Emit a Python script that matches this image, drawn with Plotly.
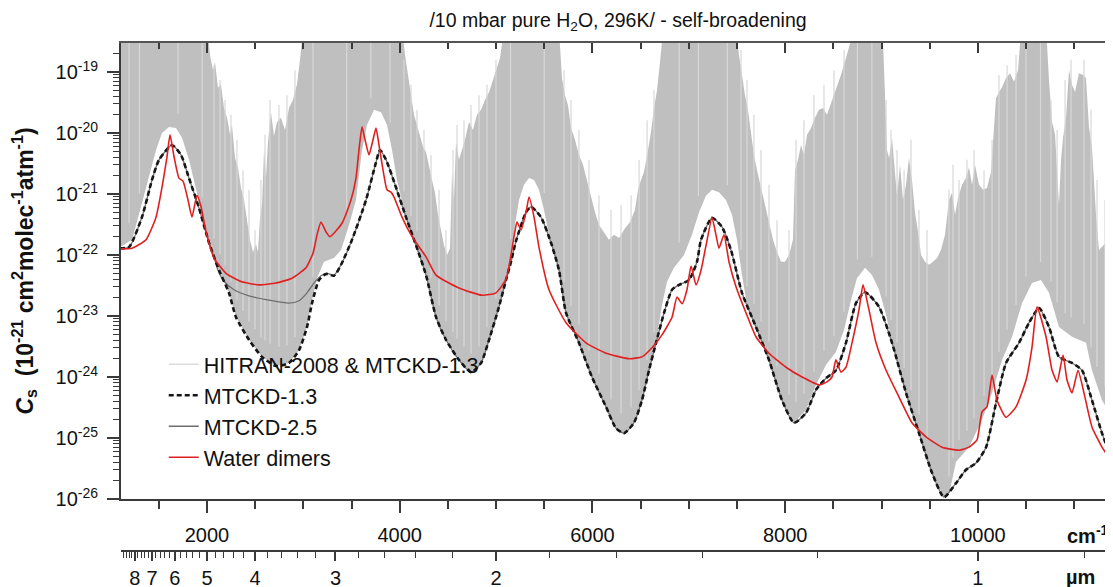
import numpy as np
import plotly.graph_objects as go

# ---------------- data (wavenumber in cm-1, log10 of Cs) ----------------
mtckd13_wn = [1097, 1118, 1191, 1325, 1429, 1502, 1637, 1730, 1813, 1917, 2021, 2125, 2228, 2301,
              2436, 2571, 2716, 2851, 2955, 3038, 3090, 3162, 3235, 3318, 3391, 3505, 3650, 3754,
              3795, 3858, 3961, 4065, 4169, 4273, 4377, 4480, 4615, 4740, 4844, 4927, 5030, 5103,
              5155, 5207, 5311, 5363, 5466, 5570, 5653, 5726, 5860, 5995, 6141, 6245, 6328, 6431,
              6514, 6587, 6660, 6743, 6826, 6898, 7002, 7085, 7127, 7241, 7344, 7438, 7552, 7697,
              7832, 7967, 8092, 8216, 8320, 8424, 8527, 8631, 8735, 8829, 8974, 9109, 9254, 9389,
              9524, 9648, 9773, 9877, 9981, 10085, 10188, 10292, 10427, 10531, 10635, 10738,
              10842, 10977, 11081, 11184, 11288, 11382, 11430]
mtckd13_lg = [-21.89, -21.89, -21.87, -21.38, -20.77, -20.44, -20.20, -20.36, -20.74, -21.23, -21.80,
              -22.25, -22.62, -23.02, -23.39, -23.67, -23.82, -23.77, -23.56, -23.18, -22.79, -22.41,
              -22.31, -22.34, -22.16, -21.75, -21.10, -20.48, -20.28, -20.44, -20.89, -21.38, -21.84,
              -22.33, -23.02, -23.39, -23.72, -23.92, -23.77, -23.39, -22.85, -22.41, -22.11, -21.77,
              -21.30, -21.21, -21.38, -21.80, -22.25, -22.95, -23.44, -24.00, -24.49, -24.84, -24.92,
              -24.75, -24.38, -23.89, -23.44, -22.95, -22.57, -22.49, -22.41, -22.11, -21.75, -21.39,
              -21.54, -21.92, -22.62, -23.18, -23.72, -24.38, -24.75, -24.59, -24.21, -24.02, -23.89,
              -23.44, -22.79, -22.61, -22.85, -23.44, -24.26, -24.92, -25.57, -25.97, -25.74, -25.52,
              -25.41, -25.15, -24.43, -23.77, -23.44, -23.11, -22.87, -23.18, -23.67, -23.77, -23.89,
              -24.38, -24.92, -25.31, -25.45]

# MTCKD-2.5 where it departs from MTCKD-1.3 (2000-3400 cm-1 window)
mtckd25_win_wn = [2073, 2114, 2176, 2280, 2436, 2643, 2851, 2955, 3038, 3110, 3183, 3245, 3318, 3391]
mtckd25_win_lg = [-22.03, -22.25, -22.43, -22.57, -22.67, -22.74, -22.79, -22.75, -22.62, -22.46,
                  -22.34, -22.30, -22.33, -22.16]

dimer_wn = [1097, 1118, 1222, 1367, 1471, 1533, 1585, 1616, 1658, 1709, 1751, 1803, 1844, 1896, 1938,
            1990, 2073, 2197, 2363, 2540, 2716, 2882, 3027, 3100, 3142, 3183, 3235, 3276, 3401, 3494,
            3546, 3577, 3609, 3640, 3681, 3723, 3754, 3785, 3827, 3868, 3910, 3941, 4024, 4128, 4273,
            4377, 4615, 4854, 4999, 5103, 5155, 5186, 5217, 5259, 5311, 5342, 5394, 5445, 5549, 5726,
            5933, 6141, 6380, 6514, 6618, 6722, 6826, 6878, 6930, 6981, 7023, 7075, 7127, 7178, 7241,
            7282, 7313, 7365, 7417, 7490, 7594, 7697, 7832, 8009, 8175, 8351, 8434, 8486, 8527, 8579,
            8631, 8694, 8766, 8808, 8870, 8943, 9047, 9182, 9316, 9462, 9628, 9804, 9908, 9991, 10043,
            10095, 10147, 10199, 10292, 10396, 10500, 10562, 10614, 10707, 10770, 10822, 10884, 10925,
            10977, 11039, 11101, 11184, 11288, 11382, 11430]
dimer_lg = [-21.90, -21.90, -21.89, -21.75, -21.38, -20.89, -20.39, -20.03, -20.39, -20.74, -20.79,
            -21.10, -21.38, -21.02, -21.21, -21.62, -22.05, -22.30, -22.44, -22.49, -22.46, -22.38,
            -22.21, -21.97, -21.67, -21.46, -21.62, -21.70, -21.48, -21.10, -20.74, -20.28, -19.90,
            -20.11, -20.36, -20.11, -19.92, -20.20, -20.61, -20.93, -20.97, -21.05, -21.38, -21.70,
            -22.03, -22.33, -22.54, -22.66, -22.62, -22.40, -22.00, -21.70, -21.46, -21.59, -21.30,
            -21.05, -21.38, -21.87, -22.57, -23.11, -23.44, -23.61, -23.70, -23.67, -23.52, -23.31,
            -23.02, -22.69, -22.80, -22.57, -22.18, -22.49, -22.25, -21.85, -21.39, -21.67, -21.89,
            -21.67, -22.11, -22.52, -22.95, -23.34, -23.61, -23.84, -24.00, -24.13, -24.08, -24.00,
            -23.72, -23.92, -23.84, -23.44, -22.90, -22.49, -22.90, -23.44, -23.89, -24.33, -24.75,
            -24.98, -25.15, -25.20, -25.15, -25.03, -24.57, -24.49, -23.97, -24.38, -24.66, -24.49,
            -24.05, -23.51, -22.85, -23.34, -23.89, -24.08, -23.64, -24.05, -24.26, -23.89, -24.26,
            -24.82, -25.15, -25.36, -25.45]

# HITRAN-2008 line spectrum: upper envelope of the dense lines
hitran_top_wn = [1097, 2000, 2031, 2062, 2083, 2114, 2145, 2176, 2208, 2239, 2259, 2291, 2322, 2353,
                 2384, 2415, 2446, 2477, 2508, 2529, 2550, 2571, 2592, 2612, 2633, 2664, 2695, 2726,
                 2768, 2809, 2851, 2892, 2934, 2965, 2996, 3007, 4013,
                 4024, 4055, 4086, 4117, 4148, 4179, 4210, 4242, 4273, 4304, 4335, 4366, 4397, 4428,
                 4460, 4491, 4522, 4543, 4563, 4584, 4615, 4646, 4677, 4719, 4760, 4802, 4844, 4885,
                 4927, 4968, 5010, 5041, 5082, 5093, 5643,
                 5653, 5684, 5715, 5746, 5778, 5819, 5860, 5902, 5943, 5985, 6027, 6068, 6120, 6172,
                 6224, 6276, 6338, 6390, 6442, 6473, 6504, 6535, 6577, 6608, 6639, 6670, 6701, 6732,
                 6743, 7479,
                 7490, 7521, 7552, 7583, 7614, 7645, 7676, 7708, 7749, 7791, 7832, 7874, 7915, 7957,
                 7998, 8040, 8081, 8102, 8133, 8164, 8195, 8227, 8268, 8310, 8351, 8393, 8434, 8486,
                 8527, 8579, 8631, 8673, 8714, 8725, 8994,
                 9015, 9036, 9057, 9078, 9109, 9130, 9161, 9192, 9223, 9254, 9285, 9316, 9347, 9379,
                 9410, 9451, 9493, 9534, 9576, 9617, 9659, 9700, 9731, 9763, 9794, 9835, 9877, 9908,
                 9939, 9970, 10012, 10053, 10095, 10136, 10167, 10188, 10219, 10251, 10292, 10334,
                 10375, 10417, 10448, 10458, 10697,
                 10718, 10738, 10770, 10801, 10822, 10842, 10863, 10884, 10915, 10946, 10977, 11008,
                 11049, 11091, 11122, 11153, 11184, 11205, 11226, 11257, 11299, 11330, 11361, 11392,
                 11430]
hitran_top_lg = [-18.15, -18.15, -18.72, -18.97, -18.84, -19.26, -19.20, -19.59, -19.75, -20.03, -19.87,
                 -20.41, -20.57, -20.90, -21.10, -21.46, -21.75, -21.95, -21.82, -21.95, -21.39, -21.18,
                 -20.28, -20.74, -20.15, -19.66, -20.05, -19.82, -19.75, -19.95, -19.59, -19.46, -19.20,
                 -18.80, -18.31, -18.15, -18.15,
                 -18.31, -18.72, -19.05, -19.38, -19.70, -19.87, -20.07, -20.23, -20.31, -20.57, -20.77,
                 -20.98, -21.34, -21.59, -21.84, -22.00, -21.89, -20.64, -21.10, -20.15, -20.44, -20.28,
                 -20.11, -19.82, -19.95, -19.70, -19.62, -19.46, -19.33, -19.13, -18.93, -18.77, -18.31,
                 -18.15, -18.15,
                 -18.31, -19.10, -19.38, -19.54, -19.92, -20.11, -20.36, -20.52, -20.77, -21.07, -21.30,
                 -21.51, -21.62, -21.75, -21.67, -21.72, -21.56, -21.46, -21.26, -20.93, -20.77, -20.64,
                 -20.28, -19.98, -19.59, -19.30, -18.84, -18.31, -18.15, -18.15,
                 -18.31, -18.72, -19.05, -19.38, -19.62, -20.03, -20.36, -20.61, -20.90, -21.18, -21.46,
                 -21.75, -21.95, -22.11, -22.11, -22.00, -21.75, -20.61, -20.44, -20.20, -20.36, -20.03,
                 -19.92, -19.75, -19.62, -19.59, -19.70, -19.46, -19.30, -19.05, -18.77, -18.56, -18.31,
                 -18.15, -18.15,
                 -18.48, -19.46, -20.28, -20.41, -20.08, -20.48, -21.02, -20.52, -21.10, -20.85, -20.41,
                 -20.77, -21.30, -21.62, -22.00, -22.11, -22.16, -22.11, -22.05, -21.92, -21.67, -21.10,
                 -20.98, -21.34, -21.07, -20.85, -20.74, -20.56, -20.85, -20.52, -20.85, -20.93, -20.90,
                 -20.64, -19.95, -19.43, -19.33, -19.25, -19.10, -19.02, -19.16, -18.97, -18.31, -18.15,
                 -18.15,
                 -18.56, -19.13, -19.82, -20.03, -20.61, -21.18, -20.44, -20.08, -19.74, -18.97, -19.21,
                 -19.33, -19.02, -19.05, -19.10, -19.90, -20.23, -20.77, -21.34, -21.92, -21.84, -21.80,
                 -21.67, -21.59, -21.59]

# HITRAN-2008 line spectrum: lower boundary (level reached between the lines)
hitran_low_wn = [1097, 1118, 1222, 1325, 1398, 1471, 1533, 1606, 1678, 1741, 1813, 1886, 1948, 2021,
                 2125, 2228, 2301, 2436, 2571, 2716, 2851, 2955, 3038, 3090, 3142, 3214, 3318, 3391,
                 3474, 3546, 3609, 3660, 3733, 3806, 3868, 3920, 3972, 4044, 4117, 4200, 4273, 4377,
                 4480, 4615, 4740, 4844, 4927, 5030, 5103, 5155, 5196, 5238, 5290, 5342, 5394, 5445,
                 5497, 5549, 5601, 5653, 5726, 5860, 5995, 6141, 6245, 6328, 6431, 6514, 6587, 6660,
                 6722, 6774, 6846, 6950, 7033, 7106, 7178, 7241, 7313, 7386, 7448, 7500, 7552, 7604,
                 7697, 7832, 7967, 8092, 8216, 8320, 8424, 8527, 8611, 8683, 8745, 8829, 8901, 8974,
                 9047, 9109, 9254, 9389, 9524, 9648, 9700, 9773, 9908, 10043, 10147, 10251, 10355,
                 10458, 10562, 10655, 10738, 10842, 10977, 11122, 11184, 11288, 11392, 11430]
hitran_low_lg = [-21.87, -21.85, -21.75, -21.15, -20.74, -20.28, -20.00, -19.90, -19.92, -20.08, -20.44,
                 -20.93, -21.34, -21.80, -22.25, -22.62, -23.02, -23.39, -23.67, -23.82, -23.77, -23.56,
                 -23.18, -22.74, -22.38, -22.11, -22.05, -21.92, -21.51, -21.10, -20.28, -19.87, -19.62,
                 -19.66, -19.87, -20.28, -20.77, -21.26, -21.67, -22.00, -22.33, -23.02, -23.39, -23.72,
                 -23.92, -23.77, -23.39, -22.85, -22.41, -22.00, -21.51, -21.10, -20.85, -20.74, -20.77,
                 -20.93, -21.26, -21.67, -22.00, -22.25, -22.95, -23.44, -24.00, -24.49, -24.84, -24.92,
                 -24.75, -24.38, -23.89, -23.44, -22.82, -22.44, -22.21, -22.00, -21.67, -21.30, -21.03,
                 -20.93, -20.97, -21.10, -21.34, -21.75, -22.33, -22.82, -23.18, -23.72, -24.38, -24.75,
                 -24.54, -24.13, -23.80, -23.59, -23.23, -22.74, -22.38, -22.21, -22.33, -22.57, -22.98,
                 -23.44, -24.26, -24.92, -25.57, -25.97, -25.93, -25.39, -25.15, -24.70, -24.26, -23.72,
                 -23.34, -22.79, -22.46, -22.41, -22.62, -23.18, -23.34, -23.44, -23.89, -24.38, -24.66,
                 -24.75]

# individual strong HITRAN lines seen as light spikes/streaks (position, peak log10)
hitran_spike_wn = [1191, 1300, 1700, 1950,
                   2073, 2135, 2187, 2249, 2311, 2374, 2436, 2498, 2560, 2602, 2654, 2747, 2830, 2913,
                   3100, 3450, 3700, 3900,
                   4044, 4117, 4179, 4252, 4325, 4408, 4480, 4553, 4595, 4667, 4740, 4823, 4906, 4999,
                   5150, 5500,
                   5705, 5778, 5860, 5964, 6068, 6193, 6297, 6401, 6484, 6567, 6639,
                   6900, 7100, 7400,
                   7542, 7604, 7676, 7749, 7832, 7915, 8040, 8113, 8195, 8299, 8403, 8507, 8611,
                   8750, 8900,
                   9047, 9099, 9161, 9234, 9306, 9389, 9472, 9700, 9742, 9804, 9887, 9960, 10064,
                   10147, 10219, 10303, 10396,
                   10500, 10650,
                   10759, 10822, 10905, 10967, 11101, 11174, 11236, 11319, 11382]
hitran_spike_lg = [-18.15, -18.15, -18.15, -18.15,
                   -18.89, -19.13, -19.46, -19.70, -20.11, -20.61, -20.93, -21.59, -20.77, -20.03,
                   -19.46, -19.54, -19.38, -18.97,
                   -18.15, -18.15, -18.15, -18.15,
                   -18.80, -19.21, -19.62, -19.95, -20.36, -20.93, -21.59, -20.28, -19.87, -19.79,
                   -19.54, -19.38, -19.21, -18.80,
                   -18.15, -18.15,
                   -18.97, -19.46, -19.95, -20.44, -21.02, -21.26, -21.18, -21.02, -20.44, -19.79,
                   -19.30,
                   -18.15, -18.15, -18.15,
                   -18.64, -19.13, -19.70, -20.28, -20.85, -21.43, -21.59, -20.11, -19.79, -19.38,
                   -19.21, -18.97, -18.64,
                   -18.15, -18.15,
                   -19.46, -19.95, -20.28, -20.61, -20.11, -21.26, -21.59, -20.93, -20.52, -20.77,
                   -20.44, -20.28, -20.61, -20.11, -19.05, -18.89, -18.72,
                   -18.15, -18.15,
                   -19.46, -19.95, -19.13, -18.80, -18.80, -19.62, -20.77, -21.10, -21.02]

x_major = [2000, 4000, 6000, 8000, 10000]
um_labels = [1, 2, 3, 4, 5, 6, 7, 8]
y_decades = [-26, -25, -24, -23, -22, -21, -20, -19]

X_RANGE = [1107.5, 11423]
Y_RANGE = [-26, -18.525]

# ---------------- build ----------------
def pw(lst):
    return [10 ** v for v in lst]

# MTCKD-2.5 coincides with MTCKD-1.3 outside its own window
m25 = [(w, l) for w, l in zip(mtckd13_wn, mtckd13_lg) if w < mtckd25_win_wn[0]]
m25 += list(zip(mtckd25_win_wn, mtckd25_win_lg))
m25 += [(w, l) for w, l in zip(mtckd13_wn, mtckd13_lg) if w > mtckd25_win_wn[-1]]
mtckd25_wn = [p[0] for p in m25]
mtckd25_lg = [p[1] for p in m25]

# spikes: vertical segments from above the lower boundary to their peak
spike_base = np.interp(hitran_spike_wn, hitran_low_wn, hitran_low_lg) + 0.3
sx, sy = [], []
for w, b, t in zip(hitran_spike_wn, spike_base, hitran_spike_lg):
    sx += [w, w, None]
    sy += [10 ** b, 10 ** t, None]

FONT = "Liberation Sans, Arial, sans-serif"
fig = go.Figure()

fig.add_trace(go.Scatter(
    x=hitran_top_wn + hitran_low_wn[::-1],
    y=pw(hitran_top_lg + hitran_low_lg[::-1]),
    fill="toself", fillcolor="#bfbfbf", line=dict(width=0, color="#bfbfbf"),
    mode="lines", showlegend=False, hoverinfo="skip"))
fig.add_trace(go.Scatter(x=sx, y=sy, mode="lines", line=dict(color="#d8d8d8", width=1.2),
                         showlegend=False, hoverinfo="skip"))
fig.add_trace(go.Scatter(x=[None], y=[None], mode="lines", name="HITRAN-2008 &amp; MTCKD-1.3",
                         line=dict(color="#dcdcdc", width=1.5), legendrank=1))
fig.add_trace(go.Scatter(x=mtckd25_wn, y=pw(mtckd25_lg), mode="lines", name="MTCKD-2.5",
                         line=dict(color="#6e6e6e", width=1.3, shape="spline", smoothing=0.6),
                         legendrank=3))
fig.add_trace(go.Scatter(x=mtckd13_wn, y=pw(mtckd13_lg), mode="lines", name="MTCKD-1.3",
                         line=dict(color="#161616", width=2.6, dash="5px,3px", shape="spline",
                                   smoothing=0.6), legendrank=2))
fig.add_trace(go.Scatter(x=dimer_wn, y=pw(dimer_lg), mode="lines", name="Water dimers",
                         line=dict(color="#e02020", width=1.6, shape="spline", smoothing=0.5),
                         legendrank=4))
# carriers for the decorative overlay axes
fig.add_trace(go.Scatter(x=[None], y=[None], xaxis="x2", showlegend=False, hoverinfo="skip"))
fig.add_trace(go.Scatter(x=[None], y=[None], xaxis="x3", showlegend=False, hoverinfo="skip"))
fig.add_trace(go.Scatter(x=[None], y=[None], yaxis="y2", showlegend=False, hoverinfo="skip"))

x_minor = [v for v in range(1500, 11400, 500) if v not in x_major]
um_major_pos = [1e4 / l for l in um_labels]
um_minor_l = [0.9] + [i / 10 for i in range(12, 92, 2) if i % 10 != 0]
um_minor_pos = [1e4 / l for l in um_minor_l]
y_minor = [k * 10.0 ** e for e in range(-26, -18) for k in range(2, 10)]

axis_col = "#3a3a3a"
fig.update_layout(
    width=1113, height=587,
    margin=dict(l=113, r=6, t=35, b=44, autoexpand=False),
    paper_bgcolor="white", plot_bgcolor="white",
    font=dict(family=FONT, color="#111", size=20),
    title=dict(text="/10 mbar pure H<sub>2</sub>O, 296K/ - self-broadening",
               x=0.5, xref="paper", xanchor="center", y=1 - 12 / 587, yanchor="middle",
               font=dict(size=19.5, family=FONT, color="#111")),
    xaxis=dict(range=X_RANGE, showgrid=False, zeroline=False, showline=True, linecolor=axis_col,
               linewidth=2, ticks="outside", tickvals=x_major, ticktext=[str(v) for v in x_major],
               ticklen=12, tickwidth=2, tickcolor=axis_col, ticklabelstandoff=5,
               tickfont=dict(size=20), automargin=False,
               minor=dict(tickvals=x_minor, ticks="outside", ticklen=8, tickwidth=1.5,
                          tickcolor=axis_col, showgrid=False),
               anchor="y"),
    xaxis2=dict(range=X_RANGE, overlaying="x", anchor="free", position=0, side="bottom",
                showgrid=False, zeroline=False, showline=True, linecolor=axis_col, linewidth=2,
                ticks="outside", tickvals=um_major_pos, ticktext=[str(l) for l in um_labels],
                ticklen=9, tickwidth=2, tickcolor=axis_col, tickfont=dict(size=20),
                automargin=False,
                minor=dict(tickvals=um_minor_pos, ticks="outside", ticklen=6, tickwidth=1.3,
                           tickcolor=axis_col, showgrid=False)),
    xaxis3=dict(range=X_RANGE, overlaying="x", anchor="y", side="top", showgrid=False,
                zeroline=False, showline=True, linecolor="#555", linewidth=2, ticks="inside",
                tickvals=x_major, ticklen=10, tickwidth=2, tickcolor=axis_col,
                showticklabels=False, automargin=False,
                minor=dict(tickvals=x_minor, ticks="inside", ticklen=6, tickwidth=1.5,
                           tickcolor=axis_col, showgrid=False)),
    yaxis=dict(type="log", range=Y_RANGE, domain=[52 / 508, 1], showgrid=False, zeroline=False,
               showline=True, linecolor=axis_col, linewidth=2, ticks="outside",
               tickvals=[10.0 ** e for e in y_decades],
               ticktext=["10<sup>%d</sup>" % e for e in y_decades],
               ticklen=12, tickwidth=2, tickcolor=axis_col, tickfont=dict(size=20),
               ticklabelstandoff=5, automargin=False,
               minor=dict(tickvals=y_minor, ticks="outside", ticklen=6, tickwidth=1.2,
                          tickcolor=axis_col, showgrid=False),
               title=dict(text="<i>C</i><sub>s</sub>  (10<sup>-21</sup> cm<sup>2</sup>molec<sup>-1</sup>atm<sup>-1</sup>)",
                          font=dict(size=23, weight="bold"), standoff=27),
               anchor="x"),
    yaxis2=dict(type="log", range=Y_RANGE, overlaying="y", side="right", anchor="x",
                showgrid=False, zeroline=False, showline=False, ticks="inside",
                tickvals=[10.0 ** e for e in y_decades], ticklen=6, tickwidth=2,
                tickcolor=axis_col, showticklabels=False, automargin=False),
    legend=dict(x=0.043, y=0.4077, xanchor="left", yanchor="top", font=dict(size=21.5),
                bgcolor="rgba(0,0,0,0)", traceorder="normal", itemwidth=30,
                tracegroupgap=0),
    annotations=[
        dict(text="<b>cm<sup>-1</sup></b>", xref="paper", yref="paper", x=0.973, y=0.0315,
             xanchor="center", yanchor="middle", showarrow=False, font=dict(size=20)),
        dict(text="<b>\u00b5m</b>", xref="paper", yref="paper", x=0.965, y=-0.051,
             xanchor="center", yanchor="middle", showarrow=False, font=dict(size=20)),
    ],
)

fig.write_html("out.html")
